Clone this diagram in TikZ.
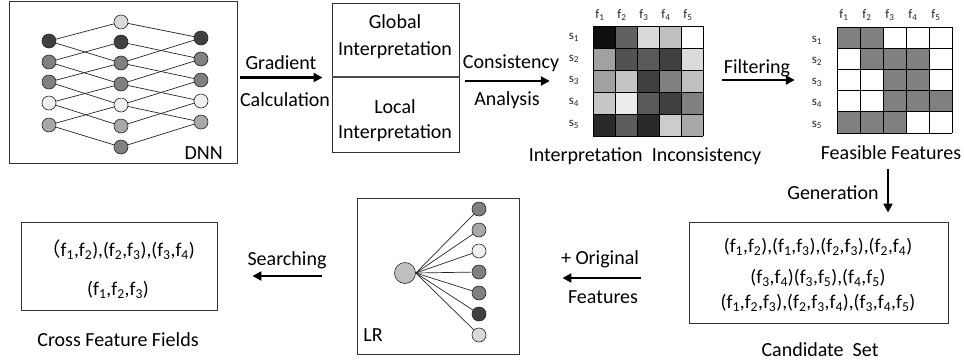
\documentclass[tikz,border=0pt]{standalone}
\usepackage{fontspec}
\setmainfont{Carlito}
\newfontfamily\cjkfont{Noto Sans CJK SC}
\usetikzlibrary{arrows.meta}
\newcommand\sbs[1]{\textsubscript{#1}}
\begin{document}
\begin{tikzpicture}[x=1pt,y=-1pt,
  lab/.style={font=\fontsize{20}{23}\selectfont, inner sep=0pt, text=black},
  form/.style={font=\fontsize{19.5}{22}\selectfont, inner sep=0pt, text=black},
  small/.style={font=\fontsize{13}{15}\selectfont, inner sep=0pt, text=black!85},
  frame/.style={draw=black!80, line width=0.9pt, inner sep=0pt},
  neuron/.style={circle, draw=black!85, line width=0.6pt, minimum size=14pt, inner sep=0pt},
  link/.style={draw=black!85, line width=0.7pt},
  arr/.style={line width=2.6pt, -{Triangle[length=9pt,width=9pt]}},
  cell/.style={draw=black, line width=0.9pt}
]
\useasboundingbox (0,0) rectangle (964,360);
\definecolor{cA}{gray}{0.25}
\definecolor{cB}{gray}{0.5}
\definecolor{cC}{gray}{0.94}
\definecolor{cD}{gray}{0.66}
\definecolor{cE}{gray}{0.85}

% ---------- DNN ----------
\node[frame, minimum width=228pt, minimum height=162pt] (dnn) at (123,82) {};
\foreach \y/\c [count=\i] in {41/cA,62/cB,82/cB,103/cC,125/cD}
  \node[neuron, fill=\c] (a\i) at (49,\y) {};
\foreach \y/\c [count=\i] in {22/cE,42/cA,63/cB,84/cB,105/cC,126/cD,147/cB}
  \node[neuron, fill=\c] (b\i) at (121,\y) {};
\foreach \y/\c [count=\i] in {38/cA,59/cB,80/cB,101/cC,122/cD}
  \node[neuron, fill=\c] (c\i) at (201,\y) {};
\foreach \i [evaluate=\i as \j using int(\i+2)] in {1,...,5} {
  \draw[link] (a\i) -- (b\i);
  \draw[link] (a\i) -- (b\j);
  \draw[link] (c\i) -- (b\i);
  \draw[link] (c\i) -- (b\j);
}
\node[lab, anchor=east] (dnnl) at (223,153) {DNN};

% ---------- Interpretation box ----------
\node[frame, minimum width=127pt, minimum height=149pt] (interp) at (395.5,77.5) {};
\draw[black!70, line width=1.6pt] (interp.west |- 0,77) coordinate (dl) -- (interp.east |- dl);
\node[lab] (glob1) at (395,22) {Global};
\node[lab] (glob2) at (395,50) {Interpretation};
\node[lab] (loc1) at (395,107) {Local};
\node[lab] (loc2) at (395,133) {Interpretation};

% ---------- Gradient arrow ----------
\draw[arr, shorten <=3pt, shorten >=9pt] (dnn.east |- interp.center) -- (interp.west);
\node[lab] (grad1) at (281,63) {Gradient};
\node[lab] (grad2) at (285,100) {Calculation};

% ---------- Interpretation inconsistency matrix ----------
\node[inner sep=0pt, minimum width=110pt, minimum height=110pt] (m1) at (648,81) {};
\foreach \row [count=\r] in {
  {0.06,0.38,0.85,0.75,1.0},
  {0.63,0.32,0.35,0.25,0.86},
  {0.63,0.77,0.25,0.5,0.75},
  {0.78,0.93,0.35,0.25,0.5},
  {0.16,0.36,0.16,0.8,0.66}} {
  \foreach \g [count=\c] in \row {
    \definecolor{tmpc}{gray}{\g}
    \fill[tmpc] (593+22*\c-22,26+22*\r-22) rectangle ++(22,22);
  }
}
\foreach \k in {0,...,5} {
  \draw[cell] (593+22*\k,26) -- (593+22*\k,136);
  \draw[cell] (593,26+22*\k) -- (703,26+22*\k);
}
\foreach \k in {1,...,5} {
  \node[small] (m1f\k) at (600+22*\k-22,15) {f\sbs{\k}};
  \node[small] (m1s\k) at (574,37+21.8*\k-21.8) {s\sbs{\k}};
}
\node[lab] (m1l) at (645,156) {Interpretation\ \ Inconsistency};

% ---------- Consistency arrow ----------
\draw[arr, shorten <=6pt, shorten >=43pt] (interp.east |- m1.center) -- (m1.west);
\node[lab] (cons1) at (511,63) {Consistency};
\node[lab] (cons2) at (507,100) {Analysis};

% ---------- Feasible features matrix ----------
\node[inner sep=0pt, minimum width=115pt, minimum height=106pt] (m2) at (894.5,80) {};
\foreach \row [count=\r] in {
  {1,1,0,0,0},
  {0,1,1,1,0},
  {0,0,1,1,0},
  {0,0,1,1,1},
  {1,1,1,0,0}} {
  \foreach \g [count=\c] in \row {
    \ifnum\g=1 \fill[cB] (837+23*\c-23,27+21.2*\r-21.2) rectangle ++(23,21.2);\fi
  }
}
\foreach \k in {0,...,5} {
  \draw[cell] (837+23*\k,27) -- (837+23*\k,133);
  \draw[cell] (837,27+21.2*\k) -- (952,27+21.2*\k);
}
\foreach \k in {1,...,5} {
  \node[small] (m2f\k) at (844+23*\k-23,15) {f\sbs{\k}};
  \node[small] (m2s\k) at (817,40+21.2*\k-21.2) {s\sbs{\k}};
}
\node[lab] (m2l) at (891,153) {Feasible Features};

% ---------- Filtering arrow ----------
\draw[arr, shorten <=19pt, shorten >=42pt] (m1.east |- m2.center) -- (m2.west);
\node[lab] (filt) at (757,68) {Filtering};

% ---------- Candidate set ----------
\node[frame, minimum width=259pt, minimum height=101pt] (cand) at (818.5,272.5) {};
\node[form] (cand1) at (818,247) {(f\sbs{1},f\sbs{2}),(f\sbs{1},f\sbs{3}),(f\sbs{2},f\sbs{3}),(f\sbs{2},f\sbs{4})};
\node[form] (cand2) at (818,278) {(f\sbs{3},f\sbs{4})(f\sbs{3},f\sbs{5}),(f\sbs{4},f\sbs{5})};
\node[form] (cand3) at (818,303) {(f\sbs{1},f\sbs{2},f\sbs{3}),(f\sbs{2},f\sbs{3},f\sbs{4}),(f\sbs{3},f\sbs{4},f\sbs{5})};
\node[lab] (candl) at (820,350) {Candidate\ \ Set};

% ---------- Generation arrow ----------
\coordinate (genx) at (888,0);
\draw[arr, shorten <=9pt, shorten >=9pt] (m2l.south -| genx) -- (cand.north -| genx);
\node[lab] (gen) at (833,193) {Generation};

% ---------- LR ----------
\node[frame, minimum width=162pt, minimum height=156pt] (lr) at (438,276) {};
\node[circle, draw=black!85, line width=0.6pt, fill=black!25, minimum width=21pt, inner sep=0pt] (big) at (405,273) {};
\foreach \y/\c [count=\i] in {209/cB,230/cD,251/cC,272/cB,293/cB,314/cA,335/cE} {
  \node[neuron, fill=\c] (r\i) at (479,\y) {};
  \draw[link] (big.east) -- (r\i);
}
\node[lab] (lrl) at (373,335) {LR};

% ---------- +Original arrow ----------
\draw[arr, shorten <=48pt, shorten >=43pt] (cand.west |- 0,278) coordinate (oa) -- (lr.east |- oa);
\node[lab] (orig1) at (600,259) {+ Original};
\node[lab] (orig2) at (603,297) {Features};

% ---------- Cross feature fields ----------
\node[frame, minimum width=196pt, minimum height=88pt] (cross) at (119,266) {};
\node[form] (cross1) at (118,250) {{\cjkfont （}f\sbs{1},f\sbs{2}),(f\sbs{2},f\sbs{3}),(f\sbs{3},f\sbs{4})};
\node[form] (cross2) at (118,290) {(f\sbs{1},f\sbs{2},f\sbs{3})};
\node[lab] (crossl) at (118,340) {Cross Feature Fields};

% ---------- Searching arrow ----------
\draw[arr, shorten <=35pt, shorten >=35pt] (lr.west) -- (cross.east |- lr.west);
\node[lab] (srch) at (287,260) {Searching};
\end{tikzpicture}
\end{document}
